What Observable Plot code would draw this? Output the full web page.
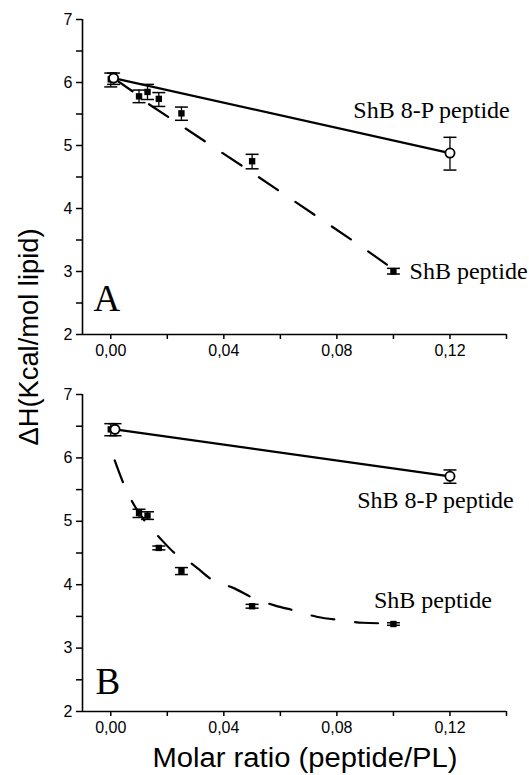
<!DOCTYPE html>
<html>
<head>
<meta charset="utf-8">
<script src="https://cdn.jsdelivr.net/npm/d3@7"></script>
<script src="https://cdn.jsdelivr.net/npm/@observablehq/plot@0.6"></script>
<style>
  html, body { margin: 0; padding: 0; background: white; }
  #wrap { position: relative; width: 529px; height: 775px; overflow: hidden; background: white; }
  #wrap > div.panel { position: absolute; left: 0; }
  #overlay { position: absolute; left: 0; top: 0; pointer-events: none; }
</style>
</head>
<body>
<div id="wrap">
  <div class="panel" id="pa" style="top:0px"></div>
  <div class="panel" id="pb" style="top:375px"></div>
</div>
<script>
// ---------- axes ----------
const xDomain = [-0.01, 0.14];
const yDomain = [2, 7];
const xTicks = [0, 0.02, 0.04, 0.06, 0.08, 0.10, 0.12, 0.14];
const xTickLabels = ["0,00", "", "0,04", "", "0,08", "", "0,12", ""];
const yTicks = [2, 2.5, 3, 3.5, 4, 4.5, 5, 5.5, 6, 6.5, 7];
const yTickLabels = ["2", "", "3", "", "4", "", "5", "", "6", "", "7"];
const xTitle = "Molar ratio (peptide/PL)";
const yTitle = "ΔH(Kcal/mol lipid)";

// ---------- panel A ----------
const aShbX  = [0, 0.01, 0.013, 0.017, 0.025, 0.05, 0.1];
const aShbY  = [6.05, 5.78, 5.85, 5.74, 5.51, 4.75, 3.00];
const aShbLo = [5.93, 5.68, 5.73, 5.62, 5.40, 4.63, 2.96];
const aShbHi = [6.15, 5.88, 5.97, 5.84, 5.61, 4.86, 3.05];
const a8pX  = [0.001, 0.12];
const a8pY  = [6.07, 4.88];
const a8pLo = [5.97, 4.61];
const a8pHi = [6.15, 5.13];
const aFitX = [0.001, 0.0077, 0.013, 0.048, 0.0879, 0.0995];
const aFitY = [6.07, 5.86, 5.67, 4.63, 3.42, 3.05];
const aLabelText = ["ShB 8-P peptide", "ShB peptide"];
const aLabelX = [0.0858, 0.1057];
const aLabelY = [5.556, 3.0];
const aLetter = "A";
const aLetterX = -0.0061;
const aLetterY = 2.56;

// ---------- panel B ----------
const bShbX  = [0, 0.01, 0.013, 0.017, 0.025, 0.05, 0.1];
const bShbY  = [6.45, 5.13, 5.09, 4.58, 4.22, 3.66, 3.38];
const bShbLo = [6.35, 5.06, 5.03, 4.55, 4.16, 3.63, 3.36];
const bShbHi = [6.54, 5.19, 5.15, 4.61, 4.27, 3.69, 3.40];
const b8pX  = [0.0015, 0.12];
const b8pY  = [6.45, 5.71];
const b8pLo = [6.35, 5.60];
const b8pHi = [6.54, 5.81];
const bFitX = [0.0014, 0.0041, 0.0077, 0.0118, 0.0171, 0.0228, 0.0293, 0.0361, 0.0433, 0.0504, 0.0582, 0.0652, 0.0732, 0.0814, 0.089, 0.098];
const bFitY = [5.96, 5.64, 5.30, 5.02, 4.75, 4.49, 4.31, 4.07, 3.95, 3.79, 3.67, 3.59, 3.49, 3.44, 3.40, 3.39];
const bLabelText = ["ShB 8-P peptide", "ShB peptide"];
const bLabelX = [0.0872, 0.0931];
const bLabelY = [5.33, 3.76];
const bLetter = "B";
const bLetterX = -0.0054;
const bLetterY = 2.46;

// ---------- helpers ----------
const rows = (xs, ys, lo, hi) => xs.map((x, i) => ({x, y: ys[i], lo: lo ? lo[i] : null, hi: hi ? hi[i] : null}));
const hline = { draw(ctx, size) { const r = Math.sqrt(size / Math.PI); ctx.moveTo(-r, 0); ctx.lineTo(r, 0); } };
const fmtX = d => { const i = xTicks.findIndex(t => Math.abs(t - d) < 1e-9); return i >= 0 ? xTickLabels[i] : ""; };
const fmtY = d => { const i = yTicks.findIndex(t => Math.abs(t - d) < 1e-9); return i >= 0 ? yTickLabels[i] : ""; };
const serif = "'Liberation Serif', 'Times New Roman', serif";

function panel(p) {
  const shb = rows(p.shbX, p.shbY, p.shbLo, p.shbHi);
  const ep = rows(p.epX, p.epY, p.epLo, p.epHi);
  const fit = rows(p.fitX, p.fitY);
  const labels = p.labelText.map((t, i) => ({t, x: p.labelX[i], y: p.labelY[i]}));
  const errs = shb.concat(ep);
  return Plot.plot({
    width: 529,
    height: 375,
    marginLeft: 82,
    marginRight: 23,
    marginTop: 19,
    marginBottom: p.mb,
    x: {domain: xDomain},
    y: {domain: yDomain},
    style: {fontFamily: "'Liberation Sans', Arial, sans-serif", fontSize: "16px", background: "white", color: "black", overflow: "visible"},
    marks: [
      Plot.axisX({ticks: xTicks, tickFormat: fmtX, tickSize: 5, tickPadding: 5, label: null, strokeWidth: 1.5, fontSize: 16}),
      Plot.axisY({ticks: yTicks, tickFormat: fmtY, tickSize: 6, tickPadding: 4, label: null, strokeWidth: 1.5, fontSize: 16}),
      Plot.ruleY([yDomain[0]], {stroke: "black", strokeWidth: 1.6}),
      Plot.ruleX([xDomain[0]], {stroke: "black", strokeWidth: 1.6}),
      Plot.line(fit, {x: "x", y: "y", stroke: "black", strokeWidth: 2.2, strokeDasharray: "23,21", curve: p.curve}),
      Plot.line(ep, {x: "x", y: "y", stroke: "black", strokeWidth: 2.2}),
      Plot.ruleX(errs, {x: "x", y1: "lo", y2: "hi", stroke: "black", strokeWidth: 1.3}),
      Plot.dot(errs, {x: "x", y: "lo", symbol: hline, r: 6.5, stroke: "black", strokeWidth: 1.5}),
      Plot.dot(errs, {x: "x", y: "hi", symbol: hline, r: 6.5, stroke: "black", strokeWidth: 1.5}),
      Plot.dot(shb, {x: "x", y: "y", symbol: "square", r: 3.6, fill: "black"}),
      Plot.dot(ep, {x: "x", y: "y", r: 4.6, fill: "white", stroke: "black", strokeWidth: 1.8}),
      Plot.text(labels, {x: "x", y: "y", text: "t", textAnchor: "start", lineAnchor: "middle", fontFamily: serif, fontSize: 24, fill: "black"}),
      Plot.text([p.letter], {x: p.letterX, y: p.letterY, text: d => d, textAnchor: "start", lineAnchor: "middle", fontFamily: serif, fontSize: 37, fill: "black"})
    ]
  });
}

document.getElementById("pa").append(panel({
  shbX: aShbX, shbY: aShbY, shbLo: aShbLo, shbHi: aShbHi,
  epX: a8pX, epY: a8pY, epLo: a8pLo, epHi: a8pHi,
  fitX: aFitX, fitY: aFitY, curve: "linear",
  labelText: aLabelText, labelX: aLabelX, labelY: aLabelY,
  letter: aLetter, letterX: aLetterX, letterY: aLetterY, mb: 41
}));
document.getElementById("pb").append(panel({
  shbX: bShbX, shbY: bShbY, shbLo: bShbLo, shbHi: bShbHi,
  epX: b8pX, epY: b8pY, epLo: b8pLo, epHi: b8pHi,
  fitX: bFitX, fitY: bFitY, curve: "monotone-x",
  labelText: bLabelText, labelX: bLabelX, labelY: bLabelY,
  letter: bLetter, letterX: bLetterX, letterY: bLetterY, mb: 39
}));

// shared axis titles
const ns = "http://www.w3.org/2000/svg";
const ov = document.createElementNS(ns, "svg");
ov.setAttribute("id", "overlay");
ov.setAttribute("width", 529);
ov.setAttribute("height", 775);
const xt = document.createElementNS(ns, "text");
xt.setAttribute("x", 305);
xt.setAttribute("y", 767);
xt.setAttribute("text-anchor", "middle");
xt.setAttribute("font-family", "'Liberation Sans', Arial, sans-serif");
xt.setAttribute("font-size", 27);
xt.setAttribute("textLength", 305);
xt.setAttribute("lengthAdjust", "spacingAndGlyphs");
xt.textContent = xTitle;
ov.append(xt);
const yt = document.createElementNS(ns, "text");
yt.setAttribute("transform", "translate(38,337) rotate(-90)");
yt.setAttribute("text-anchor", "middle");
yt.setAttribute("font-family", "'Liberation Sans', Arial, sans-serif");
yt.setAttribute("font-size", 27);
yt.setAttribute("textLength", 217);
yt.setAttribute("lengthAdjust", "spacingAndGlyphs");
yt.textContent = yTitle;
ov.append(yt);
document.getElementById("wrap").append(ov);
</script>
</body>
</html>
